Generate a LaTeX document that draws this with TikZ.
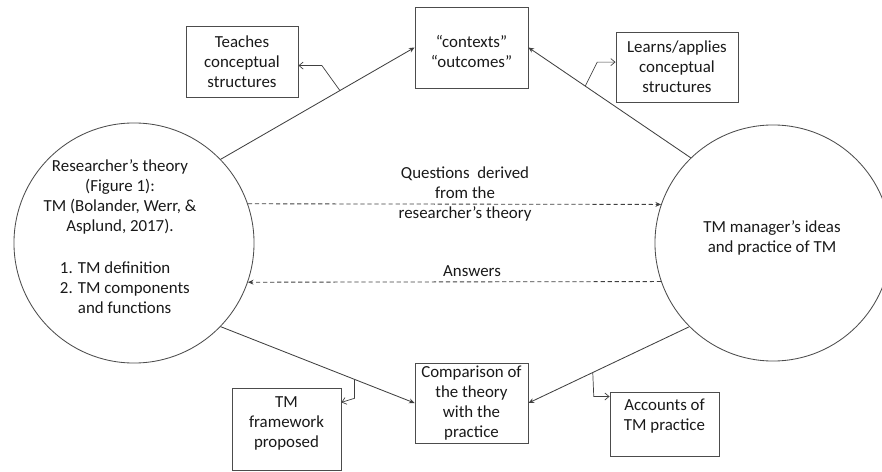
\documentclass[tikz,border=0pt]{standalone}
\usepackage{fontspec}
\setmainfont{Carlito}
\usetikzlibrary{arrows.meta,calc}

\begin{document}
\begin{tikzpicture}[x=0.025cm, y=-0.025cm,
every node/.style = {align=center, text=black!90,
	font=\fontsize{12}{14.2}\selectfont},
box/.style = {shape=rectangle, draw=black!70, line width=0.6pt, inner sep=0pt},
ring/.style = {shape=circle, draw=black!70, line width=0.6pt, inner sep=0pt},
link/.style = {draw=black!75, line width=0.6pt, -{Stealth[length=4pt,width=3.5pt]}},
side/.style = {draw=black!75, line width=0.5pt, -{Straight Barb[length=3pt,width=5pt]}},
ask/.style = {draw=black!75, line width=0.6pt, dash pattern=on 3pt off 2pt,
	-{Stealth[length=4pt,width=3.5pt]}}]
	\useasboundingbox (0,0) rectangle (882,472);
	\node[ring, minimum size=6cm] (theory) at (134,243) {};
	\node (theoryhead) at (120,197) {Researcher's theory\\(Figure 1):\\TM (Bolander, Werr, \&\\Asplund, 2017).};
	\node[align=left, anchor=west] (theorylist) at (55,288)
		{\makebox[0.45cm][l]{1.}TM definition\\\makebox[0.45cm][l]{2.}TM components\\\hspace*{0.45cm}and functions};
	\node[ring, minimum size=5.9cm] (manager) at (773,243) {};
	\node (managertext) at (772,238) {TM manager's ideas\\and practice of TM};
	\node[box, minimum width=2.825cm, minimum height=2.025cm] (contexts) at (471.5,47.5) {};
	\node (contextstext) at (471.5,51) {“contexts”\\“outcomes”};
	\node[box, minimum width=2.8cm, minimum height=1.775cm] (teaches) at (242,61.5) {Teaches\\conceptual\\structures};
	\node[box, minimum width=3.05cm, minimum height=1.75cm] (learns) at (677,67) {Learns/applies\\conceptual\\structures};
	\node[box, minimum width=2.825cm, minimum height=2cm] (comparison) at (471.5,403) {Comparison of\\the theory\\with the\\practice};
	\node[box, minimum width=2.725cm, minimum height=2.05cm] (framework) at (286.5,429) {};
	\node (frameworktext) at (286.5,423) {TM\\framework\\proposed};
	\node[box, minimum width=2.725cm, minimum height=1.6cm] (accounts) at (664.5,424) {};
	\node (accountstext) at (664.5,416) {Accounts of\\TM practice};
	\node (question) at (465,194) {Questions~ derived\\from the\\researcher's theory};
	\node (answer) at (472,271) {Answers};
	\draw[link] (theory.44) -- coordinate[pos=0.615] (tb) (contexts.west);
	\draw[side] (tb) -- ++(-18,-25) coordinate (te) -- (te -| teaches.east);
	\draw[link] (manager.134) -- coordinate[pos=0.65] (lb) (contexts.east);
	\draw[side] (lb) -- ++(12,-24) coordinate (le) -- (le -| learns.west);
	\draw[link] (theory.-44) -- coordinate[pos=0.69] (fb) (comparison.west);
	\draw[side] (fb) -- ++(0,19) coordinate (fe) -- ($(fe -| framework.east)+(0,4)$);
	\draw[link] (manager.-135) -- coordinate[pos=0.6] (ab) (comparison.east);
	\draw[side] (ab) -- ++(1,24) coordinate (ae) -- (ae -| accounts.west);
	\draw[ask] (theory.19) -- (manager.161);
	\draw[ask] (manager.199) -- (theory.-19);
\end{tikzpicture}
\end{document}
